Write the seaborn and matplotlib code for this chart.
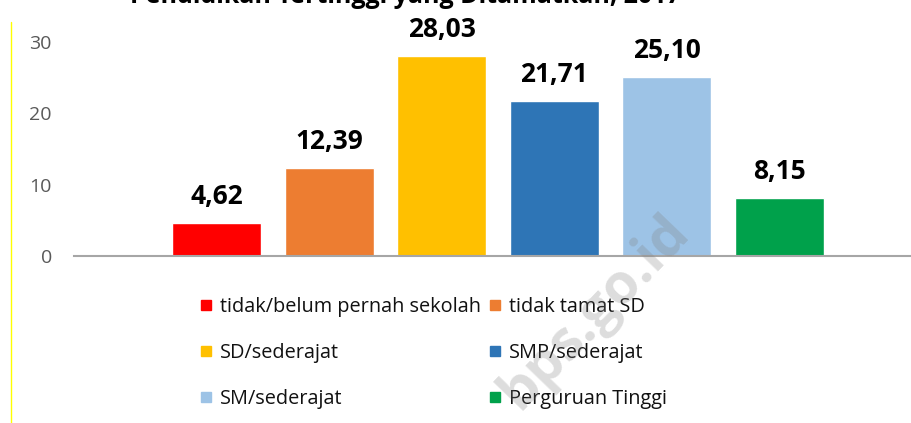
import matplotlib
matplotlib.use("Agg")
import matplotlib.pyplot as plt
from matplotlib.lines import Line2D
import seaborn as sns
import pandas as pd

# Education level shares (%)
categories = [
    "tidak/belum pernah sekolah",
    "tidak tamat SD",
    "SD/sederajat",
    "SMP/sederajat",
    "SM/sederajat",
    "Perguruan Tinggi",
]
values = [4.62, 12.39, 28.03, 21.71, 25.10, 8.15]
value_labels = ["4,62", "12,39", "28,03", "21,71", "25,10", "8,15"]
colors = ["#FF0000", "#ED7D31", "#FFC000", "#2E75B6", "#9DC3E6", "#00A14B"]
y_ticks = [0, 10, 20, 30]
title = "Pendidikan Tertinggi yang Ditamatkan, 2017"

sns.set_theme(style="white")
plt.rcParams["font.family"] = ["Open Sans", "DejaVu Sans"]

W, H = 912, 423
fig = plt.figure(figsize=(W / 100, H / 100), dpi=100)
fig.patch.set_facecolor("white")

# axes: x from 74px to right edge, y-zero at 256px, 35 units tall
ax = fig.add_axes([74 / W, (H - 256) / H, 1 - 74 / W, 35 * 7.133 / H])

df = pd.DataFrame({"cat": categories, "val": values})
sns.barplot(data=df, x="cat", y="val", hue="cat", palette=colors,
            saturation=1, width=0.79, legend=False, ax=ax, zorder=2)

xl, xr = -1.266, 6.177
ax.set_xlim(xl, xr)
ax.set_ylim(0, 35)
ax.set_yticks(y_ticks)
ax.set_yticklabels([str(t) for t in y_ticks], fontsize=14, color="#595959")
ax.tick_params(axis="y", length=0, pad=16)
ax.set_xticks([xl])
ax.set_xticklabels([""])
ax.tick_params(axis="x", length=5, width=1.4, color="#A6A6A6", direction="out")
ax.set_xlabel("")
ax.set_ylabel("")
for s in ["top", "right", "left"]:
    ax.spines[s].set_visible(False)
ax.spines["bottom"].set_color("#A6A6A6")
ax.spines["bottom"].set_linewidth(1.5)
ax.grid(False)

# value labels above bars
for i, (v, lab) in enumerate(zip(values, value_labels)):
    ax.annotate(lab, (i, v), xytext=(0, 13.5), textcoords="offset points",
                ha="center", va="baseline", fontsize=19, fontweight="bold",
                color="black")

# legend, two columns
handles = [Line2D([], [], marker="s", linestyle="none", markersize=7.5,
                  markerfacecolor=c, markeredgecolor=c) for c in colors]
order = [0, 2, 4, 1, 3, 5]
leg = fig.legend([handles[i] for i in order], [categories[i] for i in order],
                 ncol=2, loc="upper left", bbox_to_anchor=(201 / W, 1 - 297 / H),
                 frameon=False, fontsize=14.3, handlelength=0.55,
                 handletextpad=0.4, columnspacing=0.45, labelspacing=1.3,
                 borderpad=0, borderaxespad=0)
for t in leg.get_texts():
    t.set_color("#111111")

# title (top of the figure)
fig.text(130 / W, 1 - 3 / H, title, ha="left", va="baseline",
         fontsize=18, fontweight="bold", color="black")

# thin yellow frame line on the left
fig.add_artist(Line2D([11.5 / W, 11.5 / W], [0, 1 - 22 / H],
                      color="#FFFF00", lw=1))

# watermark
fig.text(595 / W, 1 - 312 / H, "bps.go.id", ha="center", va="center",
         rotation=46, fontsize=40, fontweight="bold", color="#808080",
         alpha=0.27, zorder=10)

fig.savefig("out.png", dpi=100, facecolor="white")
